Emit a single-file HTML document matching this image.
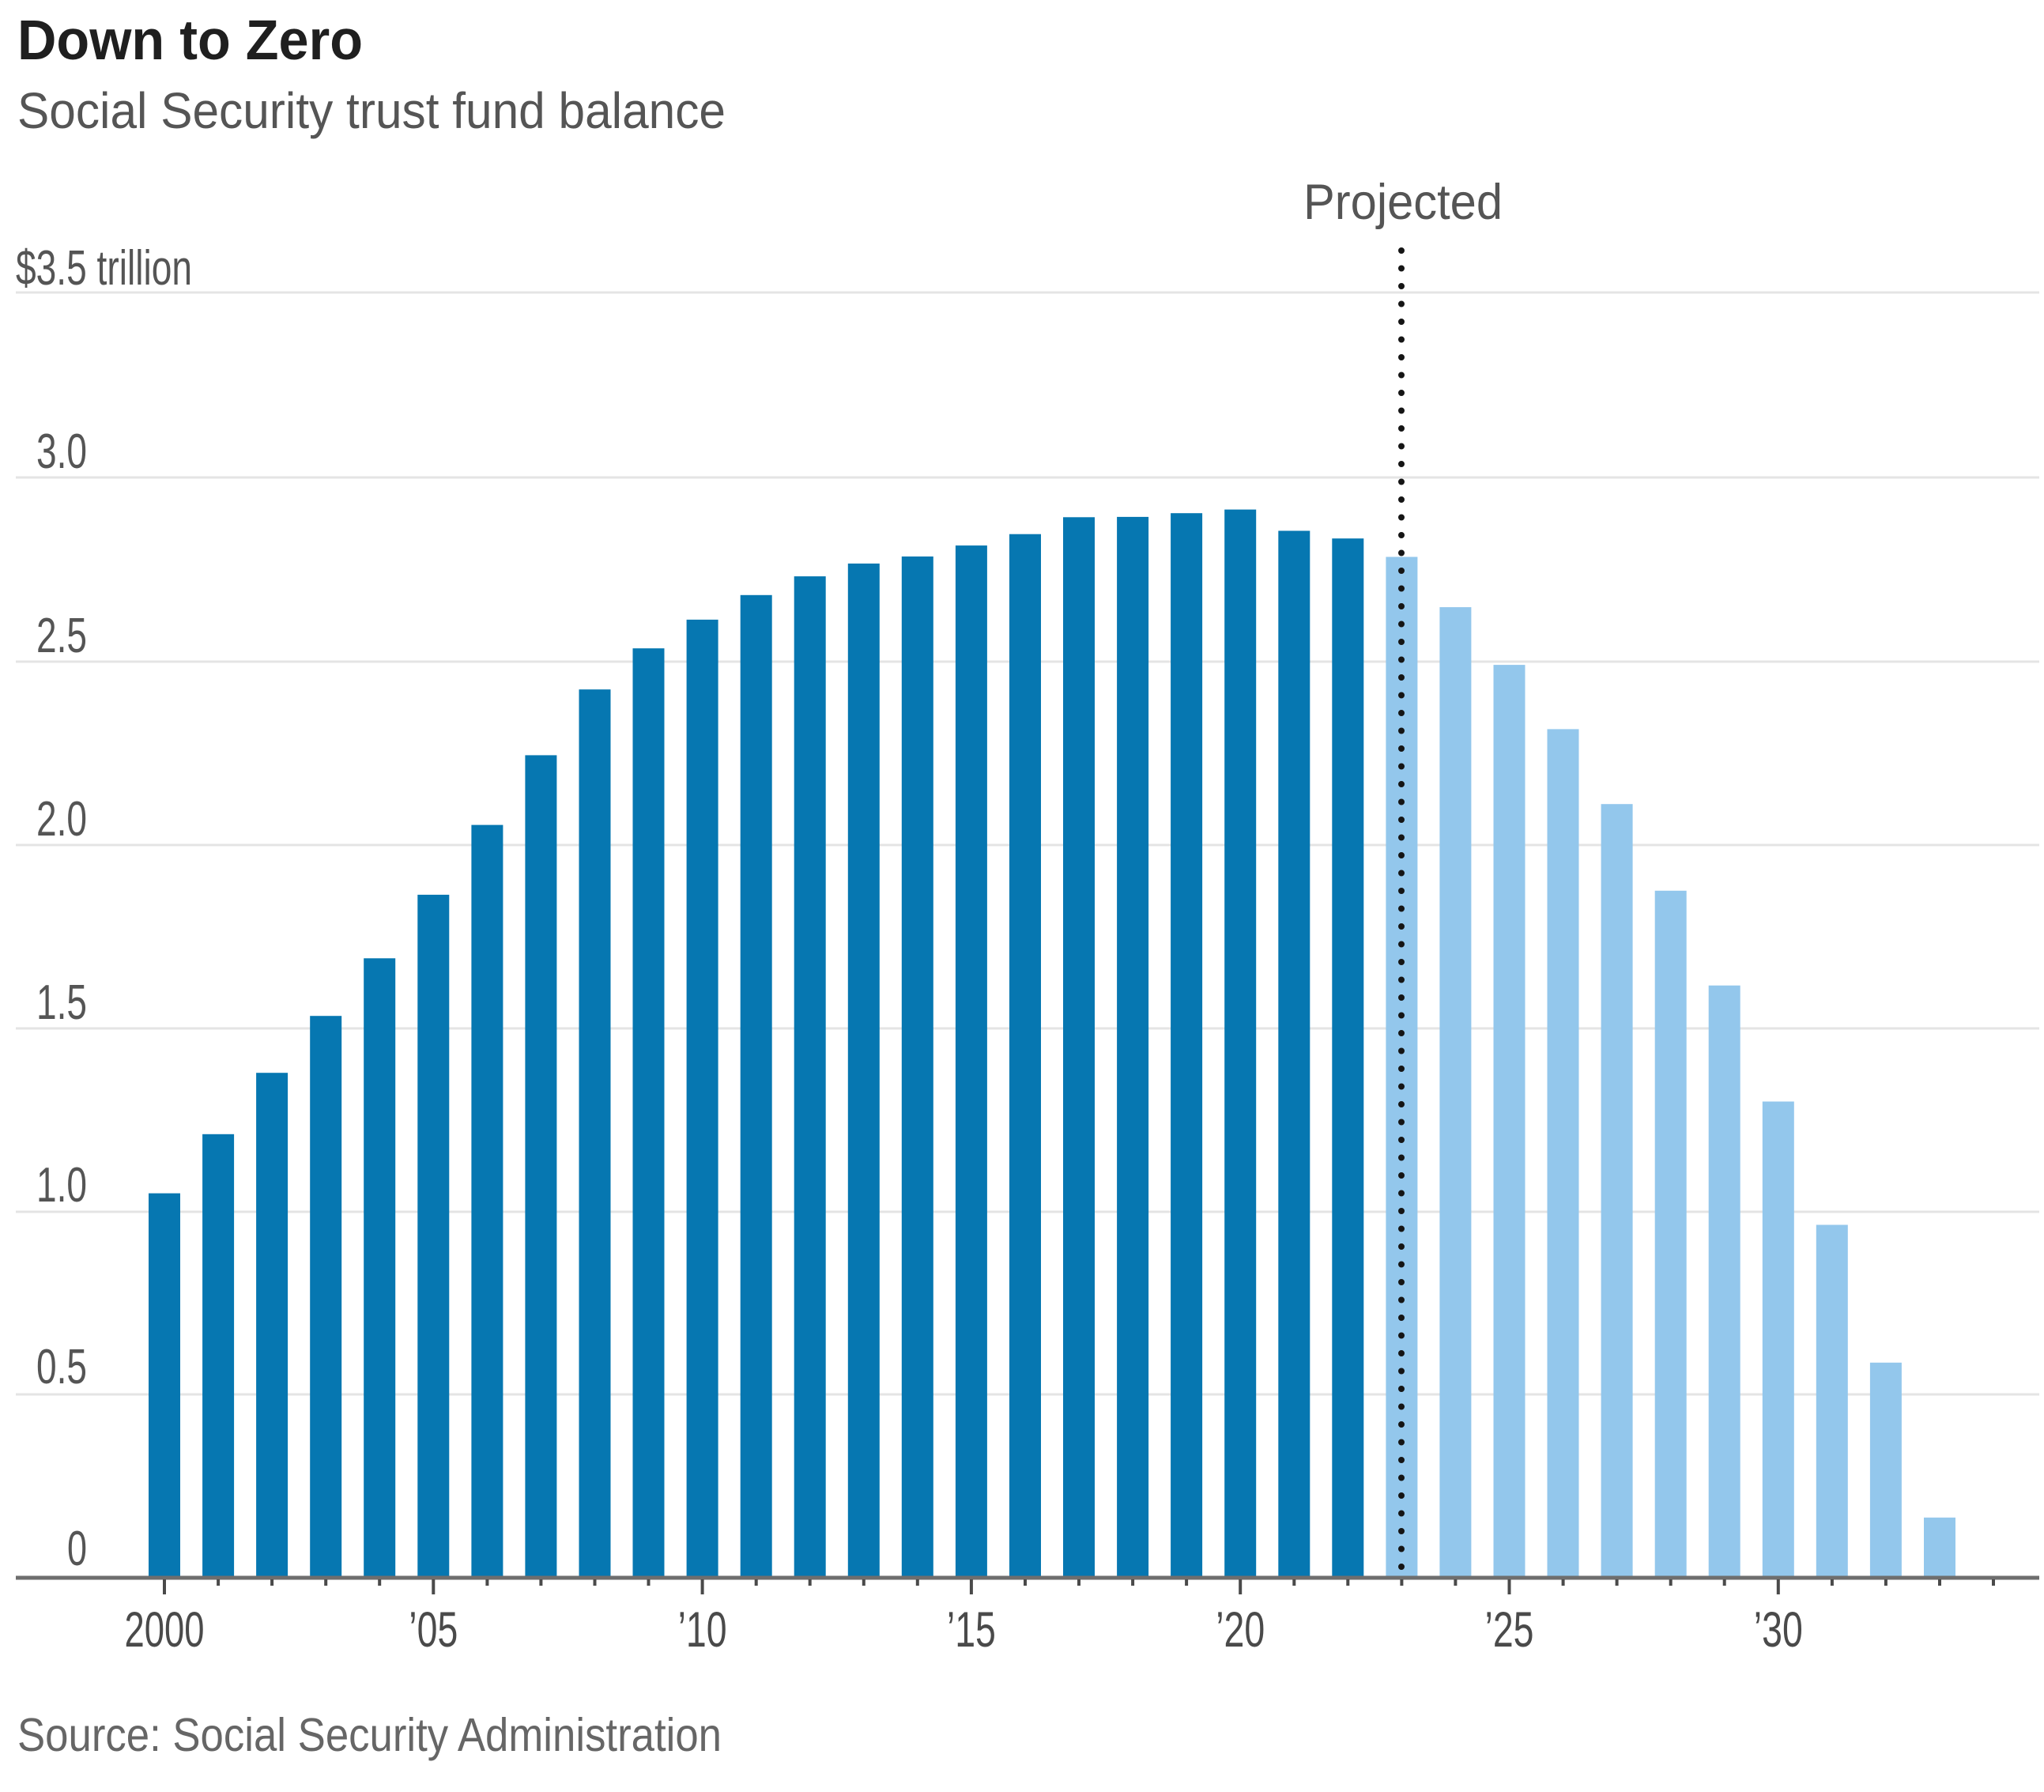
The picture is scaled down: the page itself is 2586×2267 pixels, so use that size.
<!DOCTYPE html>
<html>
<head>
<meta charset="utf-8">
<style>
  html, body { margin: 0; padding: 0; background: #ffffff; }
  svg { display: block; }
  text { font-family: "Liberation Sans", "DejaVu Sans", sans-serif; }
</style>
</head>
<body>
<svg width="2586" height="2267" viewBox="0 0 2586 2267" xmlns="http://www.w3.org/2000/svg">
  <rect x="0" y="0" width="2586" height="2267" fill="#ffffff"/>

  <!-- Title block -->
  <text x="22" y="75" font-size="71" font-weight="bold" fill="#1f1f1f" textLength="437" lengthAdjust="spacingAndGlyphs">Down to Zero</text>
  <text x="22" y="162" font-size="64" fill="#555555" textLength="896" lengthAdjust="spacingAndGlyphs">Social Security trust fund balance</text>

  <!-- Gridlines -->
  <g stroke="#e4e4e4" stroke-width="3">
    <line x1="20" y1="370" x2="2580" y2="370"/>
    <line x1="20" y1="604" x2="2580" y2="604"/>
    <line x1="20" y1="837" x2="2580" y2="837"/>
    <line x1="20" y1="1069" x2="2580" y2="1069"/>
    <line x1="20" y1="1301" x2="2580" y2="1301"/>
    <line x1="20" y1="1533" x2="2580" y2="1533"/>
    <line x1="20" y1="1764" x2="2580" y2="1764"/>
  </g>

  <!-- Y axis labels -->
  <g font-size="62" fill="#555555">
    <text x="20" y="360" textLength="223" lengthAdjust="spacingAndGlyphs">$3.5 trillion</text>
    <text x="110" y="592" text-anchor="end" textLength="64" lengthAdjust="spacingAndGlyphs">3.0</text>
    <text x="110" y="825" text-anchor="end" textLength="64" lengthAdjust="spacingAndGlyphs">2.5</text>
    <text x="110" y="1057" text-anchor="end" textLength="64" lengthAdjust="spacingAndGlyphs">2.0</text>
    <text x="110" y="1289" text-anchor="end" textLength="64" lengthAdjust="spacingAndGlyphs">1.5</text>
    <text x="110" y="1520" text-anchor="end" textLength="64" lengthAdjust="spacingAndGlyphs">1.0</text>
    <text x="110" y="1750" text-anchor="end" textLength="64" lengthAdjust="spacingAndGlyphs">0.5</text>
    <text x="110" y="1980" text-anchor="end" textLength="25" lengthAdjust="spacingAndGlyphs">0</text>
  </g>

  <!-- Bars: historical (dark) -->
  <g fill="#0677b1">
    <rect x="188.0" y="1509.6" width="40" height="486.4"/>
    <rect x="256.1" y="1434.8" width="40" height="561.2"/>
    <rect x="324.1" y="1357.2" width="40" height="638.8"/>
    <rect x="392.2" y="1285.2" width="40" height="710.8"/>
    <rect x="460.2" y="1212.3" width="40" height="783.7"/>
    <rect x="528.3" y="1131.9" width="40" height="864.1"/>
    <rect x="596.4" y="1043.6" width="40" height="952.4"/>
    <rect x="664.4" y="955.4" width="40" height="1040.6"/>
    <rect x="732.5" y="872.2" width="40" height="1123.8"/>
    <rect x="800.5" y="820.2" width="40" height="1175.8"/>
    <rect x="868.6" y="783.9" width="40" height="1212.1"/>
    <rect x="936.7" y="752.8" width="40" height="1243.2"/>
    <rect x="1004.7" y="729.1" width="40" height="1266.9"/>
    <rect x="1072.8" y="712.9" width="40" height="1283.1"/>
    <rect x="1140.8" y="704.0" width="40" height="1292.0"/>
    <rect x="1208.9" y="690.1" width="40" height="1305.9"/>
    <rect x="1277.0" y="675.7" width="40" height="1320.3"/>
    <rect x="1345.0" y="654.3" width="40" height="1341.7"/>
    <rect x="1413.1" y="653.9" width="40" height="1342.1"/>
    <rect x="1481.1" y="649.2" width="40" height="1346.8"/>
    <rect x="1549.2" y="644.6" width="40" height="1351.4"/>
    <rect x="1617.3" y="671.5" width="40" height="1324.5"/>
    <rect x="1685.3" y="681.2" width="40" height="1314.8"/>
  </g>

  <!-- Bars: projected (light) -->
  <g fill="#93c7ec">
    <rect x="1753.4" y="704.5" width="40" height="1291.5"/>
    <rect x="1821.4" y="768.1" width="40" height="1227.9"/>
    <rect x="1889.5" y="841.1" width="40" height="1154.9"/>
    <rect x="1957.5" y="922.4" width="40" height="1073.6"/>
    <rect x="2025.6" y="1017.2" width="40" height="978.8"/>
    <rect x="2093.7" y="1126.8" width="40" height="869.2"/>
    <rect x="2161.7" y="1246.7" width="40" height="749.3"/>
    <rect x="2229.8" y="1393.5" width="40" height="602.5"/>
    <rect x="2297.8" y="1549.5" width="40" height="446.5"/>
    <rect x="2365.9" y="1723.8" width="40" height="272.2"/>
    <rect x="2434.0" y="1919.8" width="40" height="76.2"/>
  </g>

  <!-- Projected divider (dotted) -->
  <line x1="1773" y1="317" x2="1773" y2="1992" stroke="#151515" stroke-width="8" stroke-linecap="round" stroke-dasharray="0 22.5"/>
  <text x="1649" y="277" font-size="63" fill="#555555" textLength="252" lengthAdjust="spacingAndGlyphs">Projected</text>

  <!-- X axis -->
  <rect x="20" y="1993.5" width="2560" height="5" fill="#6e6e6e"/>

  <!-- Ticks -->
  <g fill="#4a4a4a">
    <rect x="206" y="1998" width="4" height="19"/>
    <rect x="274.1" y="1998" width="4" height="8"/>
    <rect x="342.1" y="1998" width="4" height="8"/>
    <rect x="410.2" y="1998" width="4" height="8"/>
    <rect x="478.2" y="1998" width="4" height="8"/>
    <rect x="546.3" y="1998" width="4" height="19"/>
    <rect x="614.4" y="1998" width="4" height="8"/>
    <rect x="682.4" y="1998" width="4" height="8"/>
    <rect x="750.5" y="1998" width="4" height="8"/>
    <rect x="818.5" y="1998" width="4" height="8"/>
    <rect x="886.6" y="1998" width="4" height="19"/>
    <rect x="954.7" y="1998" width="4" height="8"/>
    <rect x="1022.7" y="1998" width="4" height="8"/>
    <rect x="1090.8" y="1998" width="4" height="8"/>
    <rect x="1158.8" y="1998" width="4" height="8"/>
    <rect x="1226.9" y="1998" width="4" height="19"/>
    <rect x="1295.0" y="1998" width="4" height="8"/>
    <rect x="1363.0" y="1998" width="4" height="8"/>
    <rect x="1431.1" y="1998" width="4" height="8"/>
    <rect x="1499.1" y="1998" width="4" height="8"/>
    <rect x="1567.2" y="1998" width="4" height="19"/>
    <rect x="1635.3" y="1998" width="4" height="8"/>
    <rect x="1703.3" y="1998" width="4" height="8"/>
    <rect x="1771.4" y="1998" width="4" height="8"/>
    <rect x="1839.4" y="1998" width="4" height="8"/>
    <rect x="1907.5" y="1998" width="4" height="19"/>
    <rect x="1975.6" y="1998" width="4" height="8"/>
    <rect x="2043.6" y="1998" width="4" height="8"/>
    <rect x="2111.7" y="1998" width="4" height="8"/>
    <rect x="2179.7" y="1998" width="4" height="8"/>
    <rect x="2247.8" y="1998" width="4" height="19"/>
    <rect x="2315.9" y="1998" width="4" height="8"/>
    <rect x="2383.9" y="1998" width="4" height="8"/>
    <rect x="2452.0" y="1998" width="4" height="8"/>
    <rect x="2520.0" y="1998" width="4" height="8"/>
  </g>

  <!-- X labels -->
  <g font-size="63" fill="#4a4a4a" text-anchor="middle">
    <text x="208" y="2083" textLength="101" lengthAdjust="spacingAndGlyphs">2000</text>
    <text x="548.3" y="2083" textLength="62" lengthAdjust="spacingAndGlyphs">’05</text>
    <text x="888.6" y="2083" textLength="62" lengthAdjust="spacingAndGlyphs">’10</text>
    <text x="1228.9" y="2083" textLength="62" lengthAdjust="spacingAndGlyphs">’15</text>
    <text x="1569.2" y="2083" textLength="62" lengthAdjust="spacingAndGlyphs">’20</text>
    <text x="1909.5" y="2083" textLength="62" lengthAdjust="spacingAndGlyphs">’25</text>
    <text x="2249.8" y="2083" textLength="62" lengthAdjust="spacingAndGlyphs">’30</text>
  </g>

  <!-- Source -->
  <text x="22" y="2215" font-size="59" fill="#666666" textLength="891" lengthAdjust="spacingAndGlyphs">Source: Social Security Administration</text>
</svg>
</body>
</html>
